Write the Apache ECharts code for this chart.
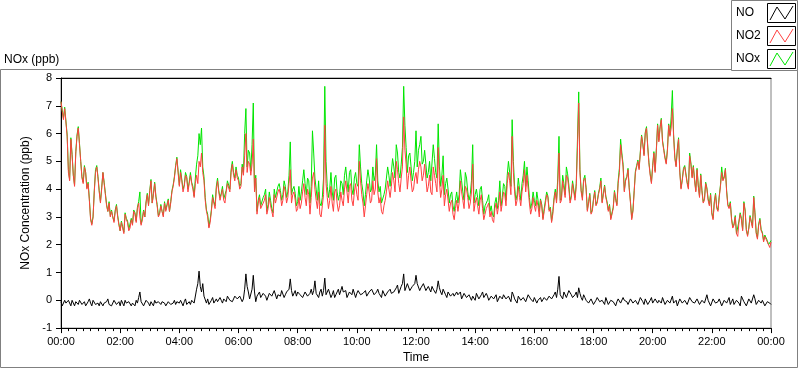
<!DOCTYPE html>
<html><head><meta charset="utf-8">
<script src="https://cdn.jsdelivr.net/npm/echarts@6/dist/echarts.min.js"></script>
<style>html,body{margin:0;padding:0;background:#fff}#c{width:800px;height:369px}</style>
</head><body><div id="c"></div>
<script>
// Main readings every 5 minutes from 00:00; "Mid" readings fall half-way (t + 2.5 min)
const stepMinutes = 5;
const xTickLabels = ['00:00','02:00','04:00','06:00','08:00','10:00','12:00','14:00','16:00','18:00','20:00','22:00','00:00'];
const yTickValues = [-1,0,1,2,3,4,5,6,7,8];
const seriesNames = ['NO','NO2','NOx'];
const seriesColors = ['#000000','#ff4040','#00e600'];

const noValues = [
-0.05,-0.15,-0.1,0.0,-0.2,-0.1,-0.05,-0.15,0.05,-0.1,-0.2,-0.05,-0.1,0.0,-0.15,-0.1,-0.05,-0.2,-0.1,0.05,-0.1,-0.15,-0.05,-0.1,-0.2,-0.1,0.0,-0.15,-0.05,-0.1,-0.2,-0.1,0.3,-0.1,-0.15,-0.05,-0.2,-0.1,0.0,-0.15,-0.1,-0.05,-0.1,-0.15,-0.05,-0.1,0.0,-0.05,-0.1,
-0.1,-0.05,-0.15,-0.05,0.0,-0.1,0.4,1.05,0.3,0.15,-0.1,-0.15,0.0,-0.1,0.05,-0.05,0.0,0.05,-0.05,0.1,0.0,0.05,0.1,0.0,0.1,0.05,0.95,0.3,0.1,0.9,-0.05,0.2,0.1,0.25,0.15,0.05,0.2,0.1,0.3,0.2,0.15,0.3,0.2,0.25,0.77,0.15,0.35,0.3,
0.2,0.1,0.3,0.15,0.25,0.2,0.7,0.2,0.3,0.15,0.8,0.25,0.35,0.2,0.1,0.3,0.2,0.5,0.25,0.1,0.3,0.2,0.35,0.25,0.4,0.2,0.3,0.15,0.3,0.4,0.2,0.3,0.25,0.1,0.3,0.2,0.35,0.25,0.3,0.45,0.25,0.5,0.95,0.4,0.55,0.3,0.45,0.9,
0.55,0.45,0.6,0.35,0.5,0.3,0.4,0.25,0.7,0.3,0.4,0.2,0.3,0.15,0.25,0.1,0.2,0.3,0.1,0.2,0.05,0.25,0.15,0.0,0.2,0.1,0.3,0.05,0.15,0.0,0.2,0.1,-0.05,0.15,0.05,0.25,0.0,0.1,0.3,0.05,-0.1,0.2,0.0,0.1,-0.05,0.15,0.0,0.1,-0.1,0.05,
-0.05,0.1,0.0,0.15,0.05,0.2,0.1,0.86,0.15,0.3,0.1,0.35,0.2,0.05,0.3,0.45,0.1,0.2,0.0,-0.1,0.05,-0.15,0.0,0.05,-0.1,-0.05,0.1,-0.15,0.0,-0.05,-0.2,0.05,-0.1,0.1,-0.05,-0.15,0.05,-0.1,0.0,-0.15,0.1,-0.05,0.05,-0.15,0.0,-0.1,0.05,-0.1,
-0.05,0.1,-0.15,0.0,-0.1,0.15,-0.05,-0.2,0.05,-0.1,0.0,-0.15,0.1,-0.05,-0.1,0.05,-0.15,0.0,-0.1,0.2,-0.05,-0.15,0.0,-0.1,0.05,-0.2,0.0,-0.1,0.1,-0.05,-0.15,0.0,-0.1,0.15,-0.05,-0.2,0.05,-0.1,0.2,-0.15,0.0,-0.1,0.05,-0.2,-0.05,-0.15
];
const noMid = [
-0.2,0.0,-0.15,-0.05,0.0,-0.2,-0.1,0.0,-0.15,-0.05,-0.15,0.05,-0.2,-0.05,-0.1,-0.2,0.0,-0.1,-0.05,-0.15,-0.2,0.0,-0.15,-0.05,0.0,-0.2,-0.1,-0.05,-0.2,-0.15,0.0,0.1,-0.05,-0.2,0.0,-0.1,-0.05,-0.2,-0.1,-0.05,-0.15,0.0,-0.2,-0.05,-0.15,-0.1,-0.15,0.0,
0.0,-0.2,0.05,-0.1,-0.15,0.05,-0.05,0.6,0.5,0.6,0.2,0.05,-0.2,0.1,-0.15,-0.05,0.1,-0.1,0.05,0.15,0.0,-0.05,0.15,0.05,0.15,-0.05,0.4,0.5,0.05,0.4,0.3,0.15,0.3,0.05,0.3,0.0,0.25,0.15,0.35,0.05,0.25,0.35,0.1,0.3,0.4,0.35,0.2,0.15,
0.35,0.15,0.2,0.35,0.1,0.4,0.35,0.25,0.1,0.4,0.35,0.2,0.4,0.1,0.35,0.2,0.4,0.15,0.3,0.35,0.15,0.3,0.4,0.1,0.35,0.2,0.25,0.35,0.1,0.25,0.35,0.15,0.4,0.2,0.35,0.15,0.3,0.4,0.2,0.3,0.55,0.3,0.6,0.35,0.6,0.35,0.5,0.6,
0.6,0.35,0.45,0.55,0.3,0.45,0.5,0.35,0.4,0.45,0.2,0.35,0.1,0.3,0.2,0.15,0.3,0.2,0.05,0.25,0.1,0.2,0.0,0.15,0.25,0.05,0.2,0.1,0.25,0.0,0.15,0.05,0.2,0.0,0.1,0.2,0.05,0.15,-0.05,0.2,0.1,0.15,0.0,0.1,-0.05,0.2,0.05,-0.05,0.15,0.0,
0.1,-0.05,0.1,0.05,0.15,0.0,0.3,0.4,0.2,0.05,0.25,0.15,0.3,0.1,0.2,0.1,0.25,0.0,0.1,0.05,-0.1,0.0,-0.1,0.1,-0.05,0.0,-0.15,0.05,-0.1,0.0,-0.1,-0.05,0.1,-0.15,0.0,-0.05,-0.1,0.05,-0.1,0.0,-0.1,0.05,-0.15,0.0,-0.1,0.1,-0.05,0.0,
0.0,-0.1,0.05,-0.15,0.05,-0.05,-0.1,0.0,-0.15,0.05,-0.1,0.0,-0.15,0.05,-0.1,-0.05,0.0,-0.15,0.05,-0.1,0.0,-0.2,0.05,-0.1,-0.05,0.0,-0.15,-0.05,0.0,-0.15,0.05,-0.1,0.0,-0.2,0.05,-0.05,-0.15,0.0,-0.1,0.05,-0.15,-0.05,0.0,-0.2,-0.05,-0.1
];

const no2Values = [
7.15,6.5,6.9,4.6,5.8,4.5,5.3,6.2,5.0,4.2,4.6,4.2,2.9,3.0,4.6,4.4,3.5,4.6,3.8,3.2,3.0,3.0,3.2,3.0,2.5,2.6,3.1,2.8,2.6,2.7,3.1,3.3,3.0,2.9,3.0,3.8,3.9,3.5,4.2,3.4,3.1,3.2,3.5,3.4,3.2,3.9,4.4,5.1,4.1,
4.3,4.1,4.4,4.2,4.2,3.7,4.5,5.0,5.3,4.3,3.2,2.6,3.2,3.5,4.0,3.9,3.8,3.6,3.9,4.2,4.6,4.5,4.7,4.3,4.1,4.5,6.0,5.0,4.5,5.8,4.4,3.5,3.3,3.5,3.8,3.3,3.4,3.0,3.5,3.9,3.8,3.6,3.9,3.7,4.7,3.8,3.6,3.3,
3.3,3.9,3.7,4.0,3.1,4.4,4.0,3.3,3.1,3.4,6.3,3.7,3.6,3.5,3.9,3.5,3.4,3.6,4.0,3.9,4.1,3.6,3.9,3.8,5.0,3.8,3.0,3.8,3.9,3.6,3.8,5.1,3.5,3.2,3.4,3.9,4.0,4.1,4.3,5.0,4.2,4.4,6.6,4.9,4.5,4.3,4.0,4.6,
4.7,4.8,4.5,4.4,4.1,3.9,4.8,4.2,5.5,3.7,4.5,3.8,3.6,3.5,3.1,3.3,3.2,4.3,3.6,4.1,3.7,3.5,4.9,3.5,3.4,3.6,3.3,3.1,3.4,3.0,2.9,3.3,3.1,3.9,3.5,3.8,4.2,4.3,5.9,3.9,3.6,3.7,3.9,4.7,4.5,3.5,3.3,3.4,3.6,3.0,
3.4,3.2,3.8,3.2,2.8,3.6,3.5,5.3,3.6,4.0,4.5,4.0,3.7,3.9,4.1,7.1,3.9,4.3,4.0,3.5,3.1,3.6,3.4,3.8,4.3,3.8,3.7,3.2,2.9,3.3,3.6,4.2,5.6,4.8,4.3,4.7,3.5,3.2,4.6,5.0,5.3,5.6,6.0,5.5,4.5,4.8,4.6,6.3,
6.2,5.7,5.1,5.4,5.9,6.9,5.1,5.4,4.6,4.3,4.8,4.2,5.2,4.4,4.3,4.7,3.7,3.9,3.6,4.0,3.4,3.1,3.5,3.3,3.7,4.6,4.4,3.9,3.3,2.9,2.7,2.4,2.8,2.9,3.5,2.5,2.6,2.8,3.7,2.4,2.7,2.5,2.1,2.2,2.0,2.1
];
const no2Mid = [
6.8,6.9,5.9,4.3,5.2,4.1,5.9,5.6,4.4,4.8,4.0,3.6,2.7,3.9,4.8,3.9,4.0,4.2,3.4,3.5,3.2,2.8,3.4,2.7,2.8,2.4,2.9,2.5,2.9,3.2,2.8,3.5,2.7,3.2,3.5,3.4,4.3,3.8,3.7,3.0,3.4,3.0,3.2,3.6,3.5,4.1,4.8,4.6,
4.6,3.9,4.5,3.9,4.5,4.0,4.2,4.2,4.8,4.6,3.6,3.0,2.8,3.7,3.3,4.3,3.6,4.0,3.5,4.2,3.9,4.9,4.3,4.4,4.0,4.8,5.2,4.6,4.9,4.9,3.9,3.1,3.7,3.3,3.6,3.1,3.7,3.2,3.8,3.5,4.0,3.4,4.1,3.5,4.2,3.5,3.9,3.2,
3.7,3.5,4.2,3.4,3.8,3.7,4.6,3.6,3.9,3.0,3.8,4.2,3.3,4.1,3.2,4.0,3.2,3.9,3.4,4.3,3.5,4.2,3.4,4.2,3.6,4.3,3.5,3.4,4.2,3.5,4.3,4.0,3.9,3.7,3.1,3.6,4.3,3.7,4.6,3.9,4.7,3.9,4.8,5.4,4.0,4.8,3.9,4.4,
4.2,5.0,4.3,4.9,3.9,4.5,3.8,4.5,3.9,4.3,4.0,3.4,4.0,3.2,3.6,2.9,3.6,3.5,3.9,3.3,4.0,3.3,3.9,3.2,3.7,3.1,3.8,2.9,3.3,3.5,3.2,2.8,3.5,3.4,3.2,3.9,3.4,4.6,3.8,4.6,3.4,4.1,3.4,4.2,3.9,4.0,3.1,3.7,3.2,3.4,
3.6,2.9,3.5,3.7,3.3,3.1,3.9,4.2,3.5,4.3,3.7,4.4,3.5,4.2,3.6,5.5,4.6,3.6,4.4,3.2,3.8,3.2,3.9,3.5,4.0,3.5,4.1,3.5,3.4,2.9,3.9,3.4,4.6,5.2,3.9,4.4,4.0,2.9,3.9,4.8,4.7,5.9,5.2,6.2,4.9,4.2,5.3,5.4,
5.7,6.5,5.4,4.9,6.3,6.2,5.9,4.8,5.8,4.0,4.7,4.5,4.0,4.9,4.8,3.9,4.1,4.5,3.5,4.2,3.6,3.8,2.9,3.8,3.2,4.1,4.3,4.7,3.4,3.5,2.6,3.0,2.3,3.1,2.5,3.2,2.3,3.0,2.6,3.1,2.2,2.9,2.4,2.3,2.1,1.9
];

const noxValues = [
7.15,6.55,6.9,4.7,5.85,4.5,5.35,6.25,5.0,4.25,4.6,4.25,2.95,3.0,4.7,4.45,3.55,4.6,3.85,3.2,3.05,3.0,3.25,3.05,2.5,2.65,3.15,2.85,2.6,2.75,3.15,3.35,3.9,2.95,3.0,3.85,3.95,3.5,4.25,3.45,3.15,3.2,3.55,3.45,3.2,3.95,4.45,5.15,4.15,
4.35,4.15,4.45,4.25,4.25,3.75,4.9,6.0,6.2,4.45,3.25,2.65,3.25,3.55,4.1,3.95,3.85,3.65,3.95,4.3,4.7,4.6,4.8,4.4,4.2,4.6,6.9,5.4,4.65,7.1,4.5,3.6,3.4,3.7,4.0,3.45,3.6,3.15,3.7,4.1,3.95,3.8,4.1,3.9,5.7,4.0,3.85,3.55,
3.6,4.3,4.2,4.4,3.5,6.1,4.4,3.6,3.5,3.7,7.7,4.1,4.0,3.9,4.4,3.9,3.8,4.2,4.5,4.3,4.6,4.0,4.4,4.2,5.6,4.2,3.4,4.3,4.4,4.0,4.3,5.6,3.9,3.5,3.8,4.4,4.5,4.6,4.8,5.6,4.6,4.9,7.7,5.5,5.2,4.8,4.6,6.1,
5.4,5.9,5.0,4.9,4.6,4.3,5.6,4.6,6.35,4.1,5.2,4.2,4.0,3.8,3.4,3.6,3.5,4.7,3.9,4.6,3.9,3.8,5.6,3.8,3.7,4.0,3.6,3.4,3.6,3.2,3.1,3.5,3.3,4.3,3.7,4.1,4.5,4.6,6.5,4.1,3.8,4.0,4.2,5.0,4.8,3.7,3.5,3.6,3.9,3.2,
3.45,3.3,3.9,3.25,2.85,3.7,3.6,5.9,3.7,4.2,4.8,4.15,3.75,4.0,4.2,7.5,3.95,4.35,4.05,3.55,3.15,3.65,3.45,3.85,4.4,3.85,3.75,3.25,2.95,3.35,3.65,4.3,5.8,4.9,4.35,4.75,3.55,3.25,4.65,5.05,5.35,5.65,6.05,5.55,4.55,4.85,4.65,6.35,
6.25,5.75,5.15,5.45,5.95,7.55,5.15,5.45,4.65,4.35,4.85,4.25,5.3,4.45,4.35,4.75,3.75,3.95,3.65,4.05,3.45,3.15,3.55,3.35,3.75,4.8,4.45,3.95,3.35,2.95,2.75,2.4,2.85,2.95,3.55,2.55,2.6,2.85,3.75,2.45,2.75,2.55,2.15,2.25,2.0,2.15
];
const noxMid = [
6.85,6.95,5.95,4.35,5.25,4.15,5.95,5.65,4.45,4.85,4.05,3.65,2.75,3.95,4.85,3.95,4.05,4.25,3.45,3.55,3.25,2.85,3.45,2.75,2.85,2.45,2.95,2.55,2.95,3.25,2.85,3.55,2.75,3.25,3.55,3.45,4.35,3.85,3.75,3.05,3.45,3.05,3.25,3.65,3.55,4.15,4.85,4.65,
4.7,4.0,4.6,4.0,4.6,4.1,4.4,5.2,5.6,4.8,3.7,3.1,2.9,3.8,3.4,4.4,3.7,4.1,3.6,4.3,4.0,5.0,4.4,4.5,4.1,4.9,6.0,4.8,5.3,5.6,4.0,3.2,3.8,3.4,3.8,3.2,3.9,3.3,4.0,3.7,4.2,3.6,4.3,3.7,4.5,3.8,4.1,3.4,
4.1,3.9,4.7,3.8,4.3,4.1,5.3,4.0,4.3,3.4,4.4,5.0,3.7,4.6,3.6,4.5,3.6,4.3,3.8,4.8,3.9,4.7,3.8,4.6,4.1,4.8,3.9,3.8,4.7,3.9,4.8,4.5,4.3,4.1,3.5,4.0,4.8,4.1,5.1,4.4,5.3,4.4,5.5,6.3,4.6,5.3,4.3,5.0,
4.8,5.6,4.9,5.4,4.4,5.0,4.3,5.1,4.4,4.8,4.5,3.8,4.4,3.5,3.9,3.2,3.9,3.8,4.3,3.6,4.4,3.6,4.3,3.5,4.0,3.4,4.1,3.1,3.5,3.8,3.4,3.0,3.7,3.6,3.4,4.2,3.6,5.0,4.1,5.0,3.6,4.4,3.6,4.5,4.1,4.3,3.3,3.9,3.4,3.6,
3.65,2.95,3.6,3.75,3.35,3.2,4.0,4.4,3.6,4.5,3.8,4.55,3.6,4.3,3.7,5.8,4.7,3.7,4.5,3.25,3.85,3.25,3.95,3.55,4.05,3.55,4.15,3.55,3.45,2.95,3.95,3.45,4.75,5.3,3.95,4.45,4.05,2.95,3.95,4.85,4.75,5.95,5.25,6.25,4.95,4.25,5.35,5.45,
5.75,6.55,5.45,4.95,6.35,6.6,5.95,4.85,5.85,4.05,4.75,4.55,4.05,4.95,4.85,3.95,4.15,4.55,3.55,4.25,3.65,3.85,2.95,3.85,3.25,4.15,4.35,4.75,3.45,3.55,2.65,3.05,2.35,3.15,2.55,3.25,2.35,3.05,2.65,3.15,2.25,2.95,2.45,2.35,2.15,1.95
];

function toPairs(main, mid){
  const out = [];
  main.forEach((v,i)=>{
    out.push([i*stepMinutes, v]);
    if (i < mid.length) out.push([i*stepMinutes + stepMinutes/2, mid[i]]);
  });
  return out;
}

const chart = echarts.init(document.getElementById('c'), null, {renderer:'canvas'});
const FONT = 'Liberation Sans';

const legendGraphics = [];
legendGraphics.push({type:'rect', shape:{x:731.5,y:0.5,width:66,height:70}, style:{fill:'#fff',stroke:'#808080',lineWidth:1}, z:100});
seriesNames.forEach((name,i)=>{
  const cy = 13 + i*23;
  legendGraphics.push({type:'text', x:736, y:cy, style:{text:name, font:'12px '+FONT, fill:'#000', textVerticalAlign:'middle'}, z:101});
  legendGraphics.push({type:'rect', shape:{x:767.5,y:cy-9.5,width:28,height:19}, style:{fill:'#fff',stroke:'#000',lineWidth:1}, z:101});
  legendGraphics.push({type:'polyline', shape:{points:[[770,cy+7],[777,cy-6],[785,cy+6],[793,cy-7]]}, style:{stroke:seriesColors[i],lineWidth:1,fill:null}, z:102});
});

const option = {
  animation:false,
  backgroundColor:'#fff',
  textStyle:{fontFamily:FONT},
  grid:{left:61,right:29,top:78,bottom:40,show:true,borderColor:'#808080',borderWidth:1,containLabel:false},
  graphic:[
    {type:'rect', shape:{x:0.5,y:69.5,width:797,height:298}, style:{fill:null,stroke:'#808080',lineWidth:1}, z:-1},
    {type:'text', x:4, y:60, style:{text:'NOx (ppb)', font:'12px '+FONT, fill:'#000', textVerticalAlign:'middle'}},
    ...legendGraphics
  ],
  xAxis:[{
    type:'value', min:0, max:1440, interval:120,
    name:'Time', nameLocation:'middle', nameGap:22,
    nameTextStyle:{fontSize:12,color:'#000',fontFamily:FONT},
    axisLine:{show:true,onZero:false,lineStyle:{color:'#000',width:1}},
    axisTick:{show:true,length:5,lineStyle:{color:'#000'}},
    minorTick:{show:true,splitNumber:8,length:3,lineStyle:{color:'#000'}},
    splitLine:{show:false},
    axisLabel:{fontSize:11,color:'#000',margin:8,fontFamily:FONT,formatter:(v)=>xTickLabels[Math.round(v/120)]}
  },{
    type:'value', position:'top', min:0, max:1440,
    axisLine:{show:true,onZero:false,lineStyle:{color:'#000'}},
    axisTick:{show:false}, axisLabel:{show:false}, splitLine:{show:false}
  }],
  yAxis:{
    type:'value', min:yTickValues[0], max:yTickValues[yTickValues.length-1], interval:1,
    name:'NOx Concentration (ppb)', nameLocation:'middle', nameGap:22, nameRotate:90,
    nameTextStyle:{fontSize:12,color:'#000',fontFamily:FONT},
    axisLine:{show:true,onZero:false,lineStyle:{color:'#000',width:1}},
    axisTick:{show:true,length:5,lineStyle:{color:'#000'}},
    splitLine:{show:false},
    axisLabel:{fontSize:11,color:'#000',margin:9,fontFamily:FONT}
  },
  series:[
    {name:seriesNames[0], type:'line', data:toPairs(noValues,noMid), showSymbol:false, lineStyle:{color:seriesColors[0],width:1}, itemStyle:{color:seriesColors[0]}, z:2},
    {name:seriesNames[2], type:'line', data:toPairs(noxValues,noxMid), showSymbol:false, lineStyle:{color:seriesColors[2],width:1}, itemStyle:{color:seriesColors[2]}, z:3},
    {name:seriesNames[1], type:'line', data:toPairs(no2Values,no2Mid), showSymbol:false, lineStyle:{color:seriesColors[1],width:1}, itemStyle:{color:seriesColors[1]}, z:4}
  ]
};
chart.setOption(option);
</script></body></html>
